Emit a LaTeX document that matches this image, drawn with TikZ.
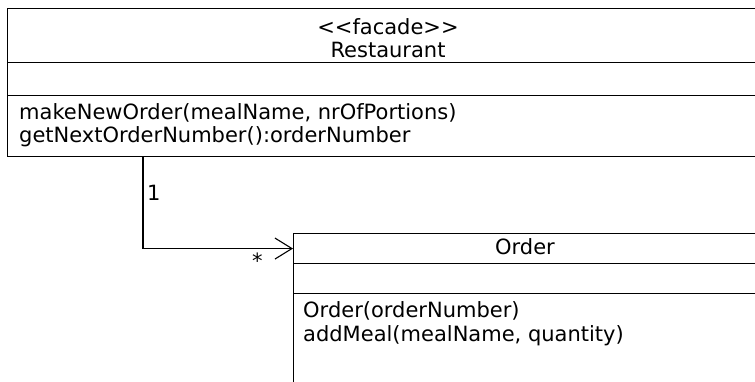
\documentclass[tikz,border=0pt]{standalone}
\usepackage{fontspec}
\setmainfont[Ligatures=NoCommon]{DejaVu Sans}
\usetikzlibrary{arrows.meta}
\begin{document}
\begin{tikzpicture}[x=1pt,y=-1pt,
  comp/.style={draw,line width=1.1pt,inner sep=0pt,anchor=north west},
  txt/.style={inner sep=0pt,font=\fontsize{21}{23}\selectfont},
  assoc/.style={line width=1.1pt,-{Straight Barb[length=17pt,width=21pt,line width=1.1pt]}}]
\useasboundingbox (0,0) rectangle (755,381);
\clip (0,0) rectangle (755,381);
% Restaurant
\node[comp,minimum width=763pt,minimum height=54pt] (r1) at (7,8) {};
\node[comp,minimum width=763pt,minimum height=33pt] (r2) at (7,62) {};
\node[comp,minimum width=763pt,minimum height=61pt] (r3) at (7,95) {};
\node[txt,anchor=base] (rs) at (388,34) {<{}<facade>{}>};
\node[txt,anchor=base] (rn) at (388,57) {Restaurant};
\node[txt,anchor=base west] (m1) at (19,119) {makeNewOrder(mealName, nrOfPortions)};
\node[txt,anchor=base west] (m2) at (19,142) {getNextOrderNumber():orderNumber};
% Order
\node[comp,minimum width=465pt,minimum height=30pt] (o1) at (293,233) {};
\node[comp,minimum width=465pt,minimum height=30pt] (o2) at (293,263) {};
\node[comp,minimum width=465pt,minimum height=110pt] (o3) at (293,293) {};
\node[txt,anchor=base] (on) at (525,254) {Order};
\node[txt,anchor=base west] (o31) at (303,317) {Order(orderNumber)};
\node[txt,anchor=base west] (o32) at (303,341) {addMeal(mealName, quantity)};
% association
\coordinate (cx) at (143,0);
\draw[assoc] (cx |- r3.south) |- (o1.west);
\node[txt,anchor=base west] (one) at (147,200) {1};
\node[txt,anchor=base west] (many) at (252,268) {*};
\end{tikzpicture}
\end{document}
